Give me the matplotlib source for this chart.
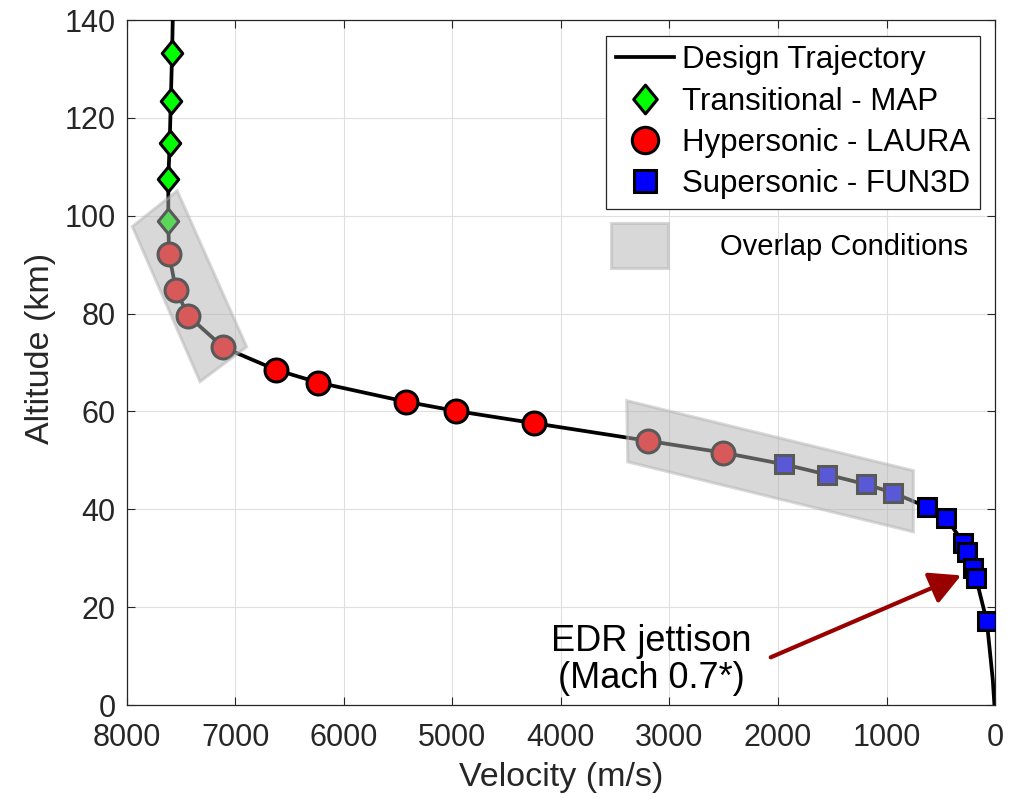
import matplotlib
matplotlib.use("Agg")
import matplotlib.pyplot as plt
from matplotlib.path import Path
from matplotlib.patches import Polygon, Rectangle

plt.rcParams['font.family'] = ['Liberation Sans', 'DejaVu Sans']

# Design trajectory (velocity m/s, altitude km)
traj_vel = [7576, 7582, 7594, 7604, 7617, 7617, 7610, 7546, 7432, 7110, 6624,
            6234, 5429, 4966, 4245, 3200, 2509, 1944, 1548, 1188, 942, 630,
            455, 292, 255, 200, 175, 76, 52, 21, 6]
traj_alt = [140.0, 133.3, 123.5, 114.9, 107.5, 98.9, 92.1, 84.8, 79.5, 73.1,
            68.5, 65.9, 62.0, 60.1, 57.6, 54.0, 51.6, 49.2, 47.1, 45.1, 43.4,
            40.5, 38.3, 33.2, 31.3, 28.1, 25.9, 17.1, 11.9, 5.1, 0.0]

# Transitional - MAP conditions
map_vel = [7582, 7594, 7604, 7617, 7617]
map_alt = [133.3, 123.5, 114.9, 107.5, 98.9]

# Hypersonic - LAURA conditions
laura_vel = [7610, 7546, 7432, 7110, 6624, 6234, 5429, 4966, 4245, 3200, 2509]
laura_alt = [92.1, 84.8, 79.5, 73.1, 68.5, 65.9, 62.0, 60.1, 57.6, 54.0, 51.6]

# Supersonic - FUN3D conditions
fun3d_vel = [1944, 1548, 1188, 942, 630, 455, 292, 255, 200, 175, 76]
fun3d_alt = [49.2, 47.1, 45.1, 43.4, 40.5, 38.3, 33.2, 31.3, 28.1, 25.9, 17.1]

# Overlap regions (corner velocities / altitudes)
overlap1_vel = [7948, 7535, 6895, 7325]
overlap1_alt = [97.8, 105.1, 73.2, 66.1]
overlap2_vel = [3393, 753, 753, 3384]
overlap2_alt = [62.2, 47.9, 35.4, 49.7]

# EDR jettison annotation
edr_tip = (313, 26.5)
edr_tail = (2067, 9.75)
edr_text_pos = (3169, 9.2)

x_ticks = [8000, 7000, 6000, 5000, 4000, 3000, 2000, 1000, 0]
y_ticks = [0, 20, 40, 60, 80, 100, 120, 140]

axis_col = '#262626'
box_face = (0.7, 0.7, 0.7)

# taller-than-wide diamond, like MATLAB's
diamond = Path([(0, -1), (0.82, 0), (0, 1), (-0.82, 0), (0, -1)],
               [Path.MOVETO, Path.LINETO, Path.LINETO, Path.LINETO, Path.CLOSEPOLY])

fig = plt.figure(figsize=(10.09, 7.98), dpi=100)
ax = fig.add_axes([0.1256, 0.1165, 0.8606, 0.8584])

ax.plot(traj_vel, traj_alt, color='black', lw=2.7, zorder=3,
        label='Design Trajectory')
ax.plot(map_vel, map_alt, ls='none', marker=diamond, ms=18, mfc='#00ff00',
        mec='black', mew=2.2, zorder=4, label='Transitional - MAP')
ax.plot(laura_vel, laura_alt, ls='none', marker='o', ms=16.5, mfc='#ff0000',
        mec='black', mew=2.2, zorder=4, label='Hypersonic - LAURA')
ax.plot(fun3d_vel, fun3d_alt, ls='none', marker='s', ms=13.5, mfc='#0000ff',
        mec='black', mew=2.2, zorder=4, label='Supersonic - FUN3D')

for vv, aa in ((overlap1_vel, overlap1_alt), (overlap2_vel, overlap2_alt)):
    ax.add_patch(Polygon(list(zip(vv, aa)), closed=True, facecolor=box_face,
                         edgecolor=box_face, lw=2.2, alpha=0.5, zorder=5))

ax.set_xlim(8000, 0)
ax.set_ylim(0, 140)
ax.set_xticks(x_ticks)
ax.set_yticks(y_ticks)
ax.grid(True, color='#dfdfdf', lw=0.8, zorder=0)
ax.set_axisbelow(True)
ax.tick_params(direction='in', length=6, width=0.8, colors=axis_col,
               labelsize=22, top=True, right=True)
ax.tick_params(axis='x', pad=13)
ax.tick_params(axis='y', pad=8)
for sp in ax.spines.values():
    sp.set_color(axis_col)
    sp.set_linewidth(0.9)

ax.set_xlabel('Velocity (m/s)', fontsize=24.5, color=axis_col)
ax.set_ylabel('Altitude (km)', fontsize=24.5, color=axis_col)
ax.xaxis.set_label_coords(0.5, -0.083)
ax.yaxis.set_label_coords(-0.081, 0.52)

leg = ax.legend(loc='upper right', bbox_to_anchor=(0.9827, 0.9766),
                borderaxespad=0, fontsize=22.5, handlelength=1.85,
                handletextpad=0.28, labelspacing=0.36, borderpad=0.3,
                markerscale=1.15,
                fancybox=False, framealpha=1, edgecolor=axis_col)
leg.get_frame().set_linewidth(0.9)
leg.set_zorder(10)

# Overlap key
ax.add_patch(Rectangle((0.5578, 0.638), 0.0656, 0.0657, transform=ax.transAxes,
                       facecolor=box_face, edgecolor=box_face, lw=2.2,
                       alpha=0.5, zorder=6))
ax.text(0.6833, 0.6686, 'Overlap Conditions', transform=ax.transAxes,
        fontsize=21, ha='left', va='center', color='black', zorder=6)

ax.annotate('', xy=edr_tip, xytext=edr_tail,
            arrowprops=dict(arrowstyle='-|>,head_length=0.95,head_width=0.5',
                            mutation_scale=20, lw=3, color='#990000',
                            shrinkA=0, shrinkB=0), zorder=7)
ax.text(edr_text_pos[0], edr_text_pos[1], 'EDR jettison\n(Mach 0.7*)',
        fontsize=26, ha='center', va='center', linespacing=1.1, zorder=7)

fig.savefig('out.png', dpi=100)
